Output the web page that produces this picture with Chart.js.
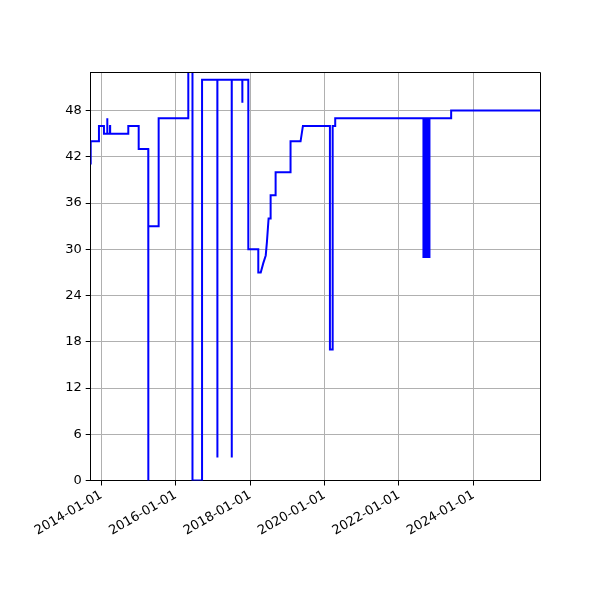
<!DOCTYPE html>
<html>
<head>
<meta charset="utf-8">
<script src="https://cdn.jsdelivr.net/npm/chart.js@4.4.1/dist/chart.umd.min.js"></script>
<style>
html,body{margin:0;padding:0;background:#fff;}
#wrap{width:600px;height:600px;}
</style>
</head>
<body>
<div id="wrap"><canvas id="c" width="600" height="600"></canvas></div>
<script>
const dates = [
  '2013-09-19','2013-09-19','2013-12-09','2013-12-09','2014-01-27','2014-01-27',
  '2014-02-28','2014-02-28','2014-03-02','2014-03-27','2014-03-27','2014-03-29','2014-03-29',
  '2014-09-23','2014-09-23','2015-01-03','2015-01-03','2015-04-07','2015-04-07','2015-04-08','2015-04-08',
  '2015-07-18','2015-07-18','2016-05-04','2016-05-04','2016-06-14','2016-06-14','2016-09-16','2016-09-16',
  '2017-02-13','2017-02-13','2017-02-14','2017-02-14',
  '2017-07-04','2017-07-04','2017-07-05','2017-07-05',
  '2017-10-16','2017-10-16','2017-10-17','2017-10-17',
  '2017-12-14','2017-12-14','2018-03-22','2018-03-22','2018-04-15','2018-05-10','2018-06-03','2018-06-15',
  '2018-07-01','2018-07-21','2018-07-21','2018-09-08','2018-09-08','2019-01-29','2019-01-29','2019-02-05',
  '2019-05-11','2019-06-03','2020-02-23','2020-02-23','2020-03-21','2020-03-21','2020-04-15','2020-04-15',
  '2022-08-29','2022-08-29','2022-09-10','2022-09-10','2022-09-22','2022-09-22',
  '2022-10-04','2022-10-04','2022-10-16','2022-10-16','2022-10-27','2022-10-27',
  '2023-05-28','2023-05-28','2025-10-16'
];
const values = [
  41,44,44,46,46,45,
  45,47,45,45,46,46,45,
  45,46,46,43,43,0,0,33,
  33,47,47,60,60,0,0,52,
  52,3,3,52,
  52,3,3,52,
  52,49,49,52,
  52,30,30,27,27,28.2,29.2,31,
  34,34,37,37,40,40,43,44,
  44,46,46,17,17,46,46,47,
  47,29,29,47,47,29,
  29,47,47,29,29,47,
  47,48,48
];
const xTickDates = ['2014-01-01','2016-01-01','2018-01-01','2020-01-01','2022-01-01','2024-01-01'];
const yTickValues = [0,6,12,18,24,30,36,42,48];
const xMinDate = '2013-09-19';
const xMaxDate = '2025-10-16';
const yMin = 0, yMax = 53;

function ts(s){const p=s.split('-').map(Number);return Date.UTC(p[0],p[1]-1,p[2]);}
function fmt(v){const d=new Date(v);const m=String(d.getUTCMonth()+1).padStart(2,'0');const dd=String(d.getUTCDate()).padStart(2,'0');return d.getUTCFullYear()+'-'+m+'-'+dd;}

const points = dates.map((d,i)=>({x:ts(d),y:values[i]}));

const frame = {
  id:'frame',
  afterDraw(chart){
    const a=chart.chartArea, ctx=chart.ctx;
    ctx.save();
    ctx.strokeStyle='#000';ctx.lineWidth=1;
    ctx.beginPath();
    ctx.moveTo(Math.round(a.left),Math.round(a.top)+0.5);
    ctx.lineTo(Math.round(a.right)+0.5,Math.round(a.top)+0.5);
    ctx.lineTo(Math.round(a.right)+0.5,Math.round(a.bottom));
    ctx.stroke();
    ctx.restore();
  }
};

const font = {family:'DejaVu Sans', size:13};

new Chart(document.getElementById('c'),{
  type:'line',
  data:{datasets:[{
    data:points,
    borderColor:'#0000ff',
    borderWidth:2,
    pointRadius:0,
    tension:0,
    fill:false
  }]},
  options:{
    responsive:false,
    animation:false,
    devicePixelRatio:1,
    layout:{padding:{left:0,top:72,right:60,bottom:0}},
    plugins:{legend:{display:false},tooltip:{enabled:false}},
    scales:{
      x:{
        type:'linear',
        min:ts(xMinDate), max:ts(xMaxDate),
        afterBuildTicks(s){s.ticks=xTickDates.map(d=>({value:ts(d)}));},
        afterFit(s){s.height=119.5;},
        ticks:{callback:(v)=>fmt(v),maxRotation:30,minRotation:30,autoSkip:false,color:'#000',font,padding:2},
        grid:{color:'#b0b0b0',lineWidth:1,tickColor:'#000',tickLength:5,drawTicks:true},
        border:{display:true,color:'#000',width:1}
      },
      y:{
        min:yMin,max:yMax,
        afterBuildTicks(s){s.ticks=yTickValues.map(v=>({value:v}));},
        afterFit(s){s.width=90.7;},
        ticks:{color:'#000',font,padding:4},
        grid:{color:'#b0b0b0',lineWidth:1,tickColor:'#000',tickLength:5,drawTicks:true},
        border:{display:true,color:'#000',width:1}
      }
    }
  },
  plugins:[frame]
});
</script>
</body>
</html>
